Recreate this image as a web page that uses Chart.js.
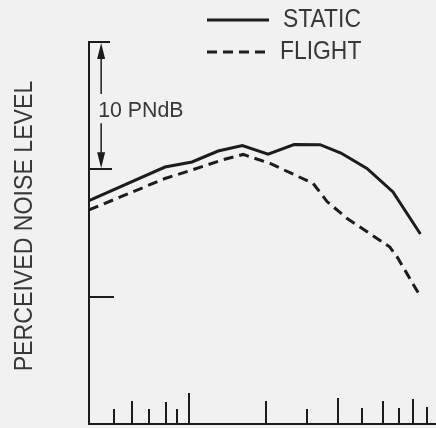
<!DOCTYPE html>
<html lang="en">
<head>
<meta charset="UTF-8">
<title>Perceived noise level</title>
<script src="https://cdn.jsdelivr.net/npm/chart.js@4.4.0/dist/chart.umd.min.js"></script>
<style>
  html, body { margin: 0; padding: 0; background: #f1f1f1; }
</style>
</head>
<body>
<canvas id="chart" width="436" height="428"></canvas>
<script>
// readings (x in arbitrary axis units 0-100, y in PNdB above the baseline)
const staticX = [0, 21.9, 29.7, 37.2, 44.2, 51.6, 59.1, 66.6, 72.6, 80.1, 87.6, 95.5];
const staticY = [17.55, 20.18, 20.58, 21.44, 21.87, 21.2, 21.95, 21.94, 21.28, 20.07, 18.22, 14.92];
const flightX = [0, 21.9, 29.7, 38.3, 44.4, 52.2, 64.6, 68.6, 74.4, 86.7, 88.8, 95.0];
const flightY = [16.81, 19.28, 19.95, 20.73, 21.17, 20.46, 18.89, 17.47, 16.14, 13.9, 13.12, 10.25];

const yTicks = [10, 20, 30];
const xTicks = [7.2, 12.4, 17.4, 22.1, 25.4, 28.8, 50.9, 62.9, 71.7, 78.8, 84.8, 89.4, 93.3, 97.3];
const xTickLen = [15, 23, 15, 22, 15, 31, 23, 15, 26, 16, 23, 16, 25, 17];
const yTickLen = [25, 23, 21];

const seriesNames = ['STATIC', 'FLIGHT'];
const yTitle = 'PERCEIVED NOISE LEVEL';
const scaleNote = '10 PNdB';

const ink = '#1c1c1c';
const textInk = '#383838';

const pts = (xs, ys) => xs.map((v, i) => ({x: v, y: ys[i]}));

// narrow lettering: squeeze Liberation Sans sideways
function narrowText(ctx, txt, x, y, squeeze) {
  ctx.save();
  ctx.translate(x, y);
  ctx.scale(squeeze, 1);
  ctx.fillText(txt, 0, 0);
  ctx.restore();
}

// ticks, arrow, legend, y title
const extras = {
  id: 'extras',
  afterDraw(chart) {
    const {ctx, scales: {x, y}} = chart;
    const left = x.getPixelForValue(0);
    const bottom = y.getPixelForValue(0);
    ctx.save();
    ctx.strokeStyle = ink;
    ctx.lineWidth = 2;
    ctx.beginPath();
    yTicks.forEach((v, i) => {
      const py = Math.round(y.getPixelForValue(v));
      ctx.moveTo(left, py);
      ctx.lineTo(left + yTickLen[i], py);
    });
    xTicks.forEach((v, i) => {
      const px = Math.round(x.getPixelForValue(v));
      ctx.moveTo(px, bottom);
      ctx.lineTo(px, bottom - xTickLen[i]);
    });
    ctx.stroke();

    // 10 PNdB dimension arrow
    const ax = x.getPixelForValue(3.5);
    const top = y.getPixelForValue(30);
    const low = y.getPixelForValue(20);
    ctx.lineWidth = 1.5;
    ctx.beginPath();
    ctx.moveTo(ax, top + 10); ctx.lineTo(ax, top + 52);
    ctx.moveTo(ax, low - 10); ctx.lineTo(ax, low - 46);
    ctx.stroke();
    ctx.fillStyle = ink;
    ctx.beginPath();
    ctx.moveTo(ax, top + 1); ctx.lineTo(ax - 4, top + 17); ctx.lineTo(ax + 4, top + 17); ctx.closePath();
    ctx.moveTo(ax, low - 1); ctx.lineTo(ax - 4, low - 17); ctx.lineTo(ax + 4, low - 17); ctx.closePath();
    ctx.fill();
    ctx.fillStyle = textInk;
    ctx.textBaseline = 'middle';
    ctx.textAlign = 'left';
    ctx.font = '22px "Liberation Sans"';
    narrowText(ctx, scaleNote, ax - 3, y.getPixelForValue(24.6), 0.97);

    // legend
    ctx.font = '26px "Liberation Sans"';
    chart.data.datasets.forEach((ds, i) => {
      const ly = 20 + i * 32;
      ctx.strokeStyle = ink;
      ctx.lineWidth = 3;
      ctx.setLineDash(ds.borderDash || []);
      ctx.beginPath();
      ctx.moveTo(207, ly); ctx.lineTo(269, ly);
      ctx.stroke();
      ctx.setLineDash([]);
      ctx.fillStyle = textInk;
      narrowText(ctx, ds.label, 283 - i * 3, ly, 0.88);
    });

    // y title
    ctx.translate(25, 226);
    ctx.rotate(-Math.PI / 2);
    ctx.textAlign = 'center';
    ctx.font = '26px "Liberation Sans"';
    narrowText(ctx, yTitle, 0, 0, 0.89);
    ctx.restore();
  }
};

new Chart(document.getElementById('chart').getContext('2d'), {
  type: 'line',
  data: {
    datasets: [{
      label: seriesNames[0],
      data: pts(staticX, staticY),
      borderColor: ink,
      borderWidth: 3,
      pointRadius: 0,
      tension: 0
    }, {
      label: seriesNames[1],
      data: pts(flightX, flightY),
      borderColor: ink,
      borderWidth: 3,
      borderDash: [10, 6],
      pointRadius: 0,
      tension: 0
    }]
  },
  options: {
    responsive: false,
    animation: false,
    layout: { padding: { left: 89, top: 42, right: 0, bottom: 4 } },
    plugins: { legend: { display: false }, tooltip: { enabled: false } },
    scales: {
      x: {
        type: 'linear', min: 0, max: 100,
        ticks: { display: false },
        grid: { display: false },
        border: { display: true, color: ink, width: 2 },
        afterFit(s) { s.height = 0; }
      },
      y: {
        min: 0, max: 30,
        ticks: { display: false },
        grid: { display: false },
        border: { display: true, color: ink, width: 2 },
        afterFit(s) { s.width = 0; }
      }
    }
  },
  plugins: [extras]
});
</script>
</body>
</html>
